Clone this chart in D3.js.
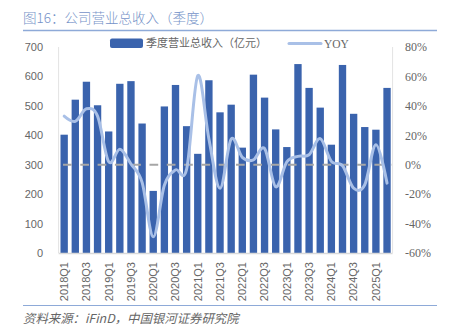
<!DOCTYPE html>
<html><head><meta charset="utf-8">
<script src="https://cdn.jsdelivr.net/npm/d3@7/dist/d3.min.js"></script>
<style>body{margin:0;background:#fff;}svg{display:block;}</style>
</head><body>
<svg id="c" width="450" height="334"></svg>
<script>
const categories = ["2018Q1","2018Q2","2018Q3","2018Q4","2019Q1","2019Q2","2019Q3","2019Q4","2020Q1","2020Q2","2020Q3","2020Q4","2021Q1","2021Q2","2021Q3","2021Q4","2022Q1","2022Q2","2022Q3","2022Q4","2023Q1","2023Q2","2023Q3","2023Q4","2024Q1","2024Q2","2024Q3","2024Q4","2025Q1","2025Q2"];
const revenue = [402,521,582,502,413,575,584,440,211,498,571,431,337,587,478,504,358,606,528,420,360,642,561,494,368,639,473,428,419,561];
const yoy = [33,29.5,38,33,2,10.5,0.5,-12,-49,-14,-3.5,-3,60.5,17.5,-16,17.4,5,3.3,11,-15,2,5.7,6.8,17.7,2.3,-0.7,-15.9,-13.6,13.6,-12.5];
const leftTicks = [0,100,200,300,400,500,600,700];
const rightTicks = [-60,-40,-20,0,20,40,60,80];
const titleText = "图16：公司营业总收入（季度）";
const sourceText = "资料来源：iFinD，中国银河证券研究院";
const legendBar = "季度营业总收入（亿元）";
const legendLine = "YOY";

const svg = d3.select("#c");
const barColor = "#3a63ad", lineColor = "#a9c0e7", ruleColor = "#8eaad8";
const cjk = "'Noto Sans CJK SC','Noto Sans',sans-serif";

const x = d3.scaleBand().domain(categories).range([58.6, 392.6]).paddingInner(0.34).paddingOuter(0.17);
const yL = d3.scaleLinear().domain([0,700]).range([253,47]);
const yR = d3.scaleLinear().domain([-60,80]).range([253,47]);

// title
svg.append("text").attr("x",23).attr("y",22.5).attr("font-family",cjk).attr("font-size",13.5).attr("font-weight",300)
  .attr("fill","#7592c8").text(titleText);
svg.append("line").attr("x1",23).attr("x2",437).attr("y1",30.5).attr("y2",30.5).attr("stroke",ruleColor).attr("stroke-width",1.5);

// axes lines
svg.append("line").attr("x1",58.6).attr("x2",58.6).attr("y1",47).attr("y2",253).attr("stroke","#e3e3e3");
svg.append("line").attr("x1",392.6).attr("x2",392.6).attr("y1",47).attr("y2",253).attr("stroke","#e3e3e3");

// left axis
const gL = svg.append("g").attr("transform","translate(58.6,0)")
  .call(d3.axisLeft(yL).tickValues(leftTicks).tickSize(0).tickPadding(15.5));
gL.select(".domain").remove();
gL.selectAll("text").attr("font-family","'Liberation Sans',Arial,sans-serif").attr("font-size",11).attr("fill","#666");

// right axis
const gR = svg.append("g").attr("transform","translate(392.6,0)")
  .call(d3.axisRight(yR).tickValues(rightTicks).tickSize(0).tickPadding(12.5).tickFormat(d=>d+"%"));
gR.select(".domain").remove();
gR.selectAll("text").attr("font-family","'Liberation Serif','Times New Roman',serif").attr("font-size",12).attr("fill","#666");

// bars
svg.append("g").selectAll("rect").data(categories).join("rect")
  .attr("x",d=>x(d)).attr("width",x.bandwidth())
  .attr("y",(d,i)=>yL(revenue[i])).attr("height",(d,i)=>yL(0)-yL(revenue[i]))
  .attr("fill",barColor);

// bottom axis line
svg.append("line").attr("x1",58.6).attr("x2",392.6).attr("y1",253.5).attr("y2",253.5).attr("stroke","#d9d9d9").attr("stroke-width",1.5);

// x labels
const gX = svg.append("g").attr("transform","translate(0,253)")
  .call(d3.axisBottom(x).tickValues(categories.filter((d,i)=>i%2===0)).tickSize(0).tickPadding(0));
gX.select(".domain").remove();
gX.selectAll("text").attr("font-family","'Liberation Sans',Arial,sans-serif").attr("font-size",11).attr("fill","#666")
  .attr("text-anchor","end").attr("transform","rotate(-90)").attr("x",-9).attr("y",0).attr("dy","0.35em");

// zero dashed line
svg.append("line").attr("x1",63).attr("x2",392).attr("y1",yR(0)).attr("y2",yR(0))
  .attr("stroke","#a6a6a6").attr("stroke-width",2).attr("stroke-dasharray","8.7,8.6");

// YOY line
const line = d3.line().x((d,i)=>x(categories[i])+x.bandwidth()/2).y(d=>yR(d)).curve(d3.curveCardinal.tension(0));
svg.append("path").datum(yoy).attr("d",line).attr("fill","none").attr("stroke",lineColor).attr("stroke-width",3).attr("stroke-linecap","round");

// legend
svg.append("rect").attr("x",110).attr("y",38.5).attr("width",33).attr("height",9.5).attr("rx",2).attr("fill",barColor);
svg.append("text").attr("x",146).attr("y",43.5).attr("dy","0.35em").attr("font-family",cjk).attr("font-size",11).attr("fill","#666").text(legendBar);
svg.append("line").attr("x1",289).attr("x2",321).attr("y1",43.5).attr("y2",43.5).attr("stroke",lineColor).attr("stroke-width",3).attr("stroke-linecap","round");
svg.append("text").attr("x",324).attr("y",43.5).attr("dy","0.35em").attr("font-family","'Liberation Serif','Times New Roman',serif").attr("font-size",11.5).attr("fill","#666").text(legendLine);

// bottom rule & source
svg.append("line").attr("x1",23).attr("x2",437).attr("y1",305.5).attr("y2",305.5).attr("stroke",ruleColor).attr("stroke-width",1);
svg.append("text").attr("x",23).attr("y",323).attr("font-family",cjk).attr("font-size",12.4).attr("font-style","italic").attr("fill","#666").text(sourceText);
</script>
</body></html>
